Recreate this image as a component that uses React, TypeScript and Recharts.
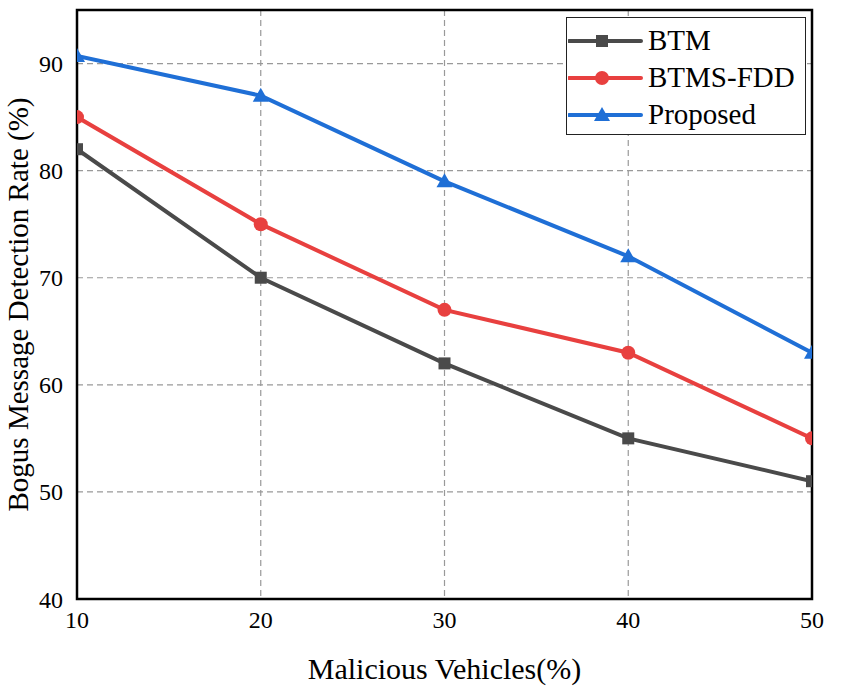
import { LineChart, Line, XAxis, YAxis, CartesianGrid, Legend, ReferenceArea } from 'recharts'

const vehicles = [10, 20, 30, 40, 50]
const btm = [82, 70, 62, 55, 51]
const btmsFdd = [85, 75, 67, 63, 55]
const proposed = [90.7, 87, 79, 72, 63]
const yTicks = [40, 50, 60, 70, 80, 90]

const data = vehicles.map((v, i) => ({
  x: v,
  btm: btm[i],
  btmsFdd: btmsFdd[i],
  proposed: proposed[i],
}))

const font = '"Liberation Serif", "Times New Roman", serif'
const tickStyle = { fill: '#000', fontSize: 24, fontFamily: font }
const xLabelStyle = { fill: '#000', fontSize: 30, fontFamily: font }
const yLabelStyle = { fill: '#000', fontSize: 29, fontFamily: font }

const series = [
  { key: 'btm', name: 'BTM', color: '#4a4a4a', shape: 'square' },
  { key: 'btmsFdd', name: 'BTMS-FDD', color: '#e8403f', shape: 'circle' },
  { key: 'proposed', name: 'Proposed', color: '#1f6fd6', shape: 'triangle' },
]

function Marker({ cx, cy, shape, color }: { cx: number; cy: number; shape: string; color: string }) {
  if (shape === 'square') return <rect x={cx - 6} y={cy - 6} width={12} height={12} fill={color} />
  if (shape === 'circle') return <circle cx={cx} cy={cy} r={7} fill={color} />
  return <polygon points={`${cx},${cy - 8} ${cx + 8},${cy + 6} ${cx - 8},${cy + 6}`} fill={color} />
}

function LegendBox() {
  return (
    <div
      style={{
        border: '1px solid #222',
        background: '#fff',
        width: 240,
        height: 118,
        boxSizing: 'border-box',
        paddingTop: 4,
        fontFamily: font,
        fontSize: 29,
        lineHeight: 1,
      }}
    >
      {series.map((s) => (
        <div key={s.key} style={{ display: 'flex', alignItems: 'center', height: 37 }}>
          <svg width={80} height={20} style={{ marginLeft: 1 }}>
            <line x1={1} y1={10} x2={73} y2={10} stroke={s.color} strokeWidth={4} strokeLinecap="round" />
            <Marker cx={34} cy={10} shape={s.shape} color={s.color} />
          </svg>
          <span style={{ color: '#000' }}>{s.name}</span>
        </div>
      ))}
    </div>
  )
}

export default function App() {
  return (
    <div style={{ position: 'absolute', left: 0, top: 0, background: '#fff' }}>
      <LineChart width={843} height={686} data={data} margin={{ top: 10, right: 31, left: 0, bottom: 0 }}>
        <CartesianGrid stroke="#999" strokeDasharray="6 4" strokeWidth={1.2} />
        <XAxis
          dataKey="x"
          type="number"
          domain={[10, 50]}
          ticks={vehicles}
          allowDataOverflow
          height={87}
          tickLine={false}
          axisLine={false}
          tickSize={0}
          tickMargin={12}
          fontSize={24}
          fontFamily={font}
          tick={{ ...tickStyle, style: tickStyle }}
          label={{
            value: 'Malicious Vehicles(%)',
            position: 'insideBottom',
            offset: 7,
            ...xLabelStyle,
            style: xLabelStyle,
          }}
        />
        <YAxis
          type="number"
          domain={[40, 95]}
          ticks={yTicks}
          allowDataOverflow
          width={77}
          tickLine={false}
          axisLine={false}
          tickSize={0}
          tickMargin={14}
          fontSize={24}
          fontFamily={font}
          tick={{ ...tickStyle, style: tickStyle }}
          label={{
            value: 'Bogus Message Detection Rate (%)',
            angle: -90,
            position: 'insideLeft',
            offset: 18,
            ...yLabelStyle,
            style: { ...yLabelStyle, textAnchor: 'middle' },
          }}
        />
        <Legend
          verticalAlign="middle"
          align="center"
          layout="horizontal"
          content={() => <LegendBox />}
          wrapperStyle={{ position: 'absolute', left: 566, top: 17, width: 240, height: 118 }}
        />
        {series.map((s) => (
          <Line
            key={s.key}
            dataKey={s.key}
            name={s.name}
            stroke={s.color}
            strokeWidth={4}
            isAnimationActive={false}
            dot={(p: any) => <Marker key={`${s.key}-${p.index}`} cx={p.cx} cy={p.cy} shape={s.shape} color={s.color} />}
            activeDot={false}
          />
        ))}
        <ReferenceArea x1={10} x2={50} y1={40} y2={95} fill="none" stroke="#000" strokeWidth={2.5} ifOverflow="visible" />
      </LineChart>
    </div>
  )
}
